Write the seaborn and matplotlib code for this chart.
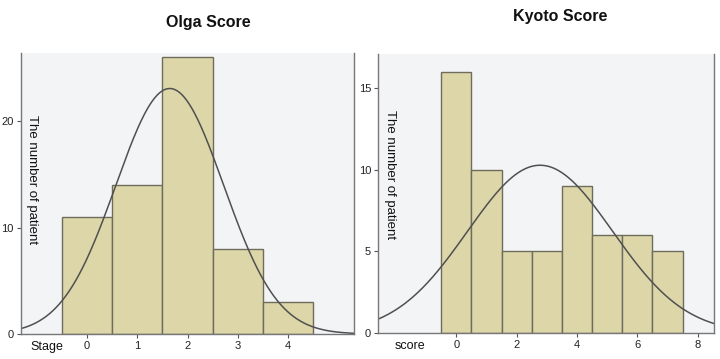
import numpy as np
import pandas as pd
import matplotlib
matplotlib.use("Agg")
import matplotlib.pyplot as plt
import seaborn as sns

sns.set_style("white")
plt.rcParams['font.family'] = ['Liberation Sans', 'DejaVu Sans']

# counts
olga_stage = [0, 1, 2, 3, 4]
olga_count = [11, 14, 26, 8, 3]
kyoto_score = [0, 1, 2, 3, 4, 5, 6, 7]
kyoto_count = [16, 10, 5, 5, 9, 6, 6, 5]

bar_color = "#dcd6a8"
edge_color = "#6e6c5c"
bg_color = "#f3f4f6"
curve_color = "#505050"


def normal_fit(vals, counts):
    # fitted normal curve scaled to counts (bin width 1)
    v = np.array(vals, float)
    c = np.array(counts, float)
    n = c.sum()
    mu = (v * c).sum() / n
    sd = np.sqrt(((v - mu) ** 2 * c).sum() / (n - 1))
    return n, mu, sd


def panel(ax, vals, counts, xlab, xlab_pos, xlim, ylim, yticks, xticks, ylab_pos):
    df = pd.DataFrame({"x": vals, "n": counts})
    sns.histplot(data=df, x="x", weights="n", discrete=True, ax=ax,
                 color=bar_color, edgecolor=edge_color, linewidth=1.0, alpha=1)
    n, mu, sd = normal_fit(vals, counts)
    xs = np.linspace(xlim[0], xlim[1], 400)
    ys = n / (sd * np.sqrt(2 * np.pi)) * np.exp(-0.5 * ((xs - mu) / sd) ** 2)
    ax.plot(xs, ys, color=curve_color, lw=1.1)
    ax.set_xlim(*xlim)
    ax.set_ylim(*ylim)
    ax.set_facecolor(bg_color)
    ax.set_xticks(xticks)
    ax.set_yticks(yticks)
    ax.set_xlabel("")
    ax.set_ylabel("")
    ax.tick_params(axis="both", labelsize=8, length=3, width=0.8,
                   colors="#555555", labelcolor="#222222", pad=2,
                   bottom=True, left=True)
    for s in ["left", "right", "bottom"]:
        ax.spines[s].set_color("#777777")
        ax.spines[s].set_linewidth(1.0)
    ax.spines["top"].set_visible(False)
    ax.text(ylab_pos[0], ylab_pos[1], "The number of patient", rotation=270,
            transform=ax.transAxes, ha="center", va="top", fontsize=9.5,
            color="#111111")
    ax.text(xlab_pos, -0.025, xlab, transform=ax.get_xaxis_transform(),
            ha="center", va="top", fontsize=9, color="#111111")


fig = plt.figure(figsize=(7.2, 3.59), dpi=100)
ax1 = fig.add_axes([0.029, 0.0696, 0.463, 0.783])
ax2 = fig.add_axes([0.525, 0.0724, 0.467, 0.777])

panel(ax1, olga_stage, olga_count, "Stage", -0.8,
      (-1.32, 5.32), (0, 26.4), [0, 10, 20], [0, 1, 2, 3, 4], (0.032, 0.78))
panel(ax2, kyoto_score, kyoto_count, "score", -1.55,
      (-2.6, 8.55), (0, 17.1), [0, 5, 10, 15], [0, 2, 4, 6, 8], (0.037, 0.80))

fig.text(208 / 720, 1 - 22 / 359, "Olga Score", ha="center", va="center",
         fontsize=11.5, fontweight="bold", color="#111111")
fig.text(560 / 720, 1 - 17 / 359, "Kyoto Score", ha="center", va="center",
         fontsize=11.5, fontweight="bold", color="#111111")

fig.savefig("out.png", dpi=100)
